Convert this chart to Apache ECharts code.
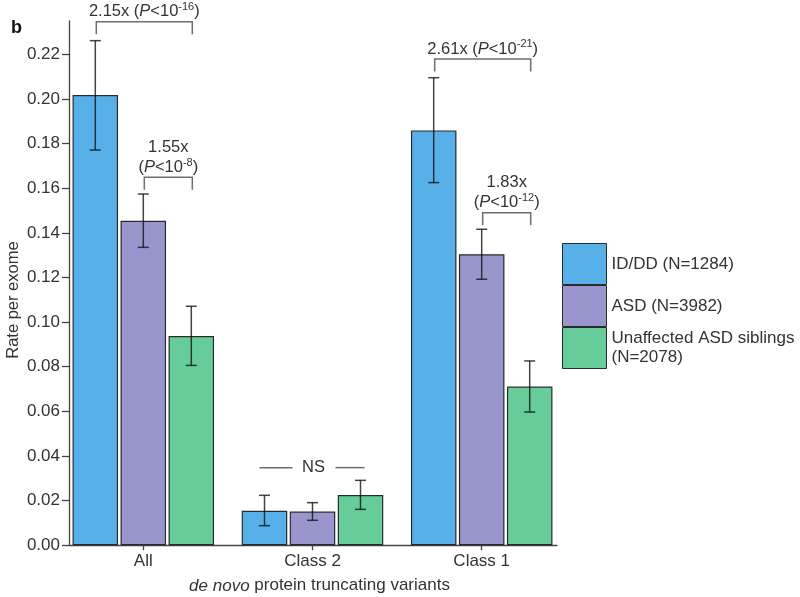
<!DOCTYPE html>
<html>
<head>
<meta charset="utf-8">
<script src="https://cdn.jsdelivr.net/npm/echarts@6/dist/echarts.min.js"></script>
<style>html,body{margin:0;padding:0;background:#fff}#main{width:800px;height:597px}</style>
</head>
<body>
<div id="main"></div>
<script>
var categories = ['All', 'Class 2', 'Class 1'];
var seriesNames = ['ID/DD (N=1284)', 'ASD (N=3982)', 'Unaffected ASD siblings\n(N=2078)'];
var idddRate = [0.2017, 0.0155, 0.1859];
var idddLow = [0.1771, 0.0088, 0.1625];
var idddHigh = [0.2261, 0.0224, 0.2095];
var asdRate = [0.1454, 0.0151, 0.1304];
var asdLow = [0.1335, 0.0112, 0.1192];
var asdHigh = [0.1574, 0.0191, 0.1416];
var sibRate = [0.0938, 0.0225, 0.0711];
var sibLow = [0.0806, 0.0161, 0.0597];
var sibHigh = [0.1071, 0.0291, 0.0826];
var yTicks = [0, 0.02, 0.04, 0.06, 0.08, 0.10, 0.12, 0.14, 0.16, 0.18, 0.20, 0.22];
// comparisons: category, first bar, second bar, bracket height, label
var cmpCat = [0, 0, 2, 2, 1];
var cmpFrom = [0, 1, 0, 1, 0];
var cmpTo = [2, 2, 2, 2, 2];
var cmpLevel = [0.2346, 0.1649, 0.2179, 0.1490, 0.0348];
var cmpText = [
  '{t|2.15x (}{i|P}{t|<10}{s|-16}{t|)}',
  '{t|1.55x}\n{t|(}{i|P}{t|<10}{s|-8}{t|)}',
  '{t|2.61x (}{i|P}{t|<10}{s|-21}{t|)}',
  '{t|1.83x}\n{t|(}{i|P}{t|<10}{s|-12}{t|)}',
  'NS'
];

var font = '"Liberation Sans", Arial, sans-serif';
var colors = ['#58b0e8', '#9896cc', '#66cc99'];
var barStep = 48;
var rates = [idddRate, asdRate, sibRate];
var lows = [idddLow, asdLow, sibLow];
var highs = [idddHigh, asdHigh, sibHigh];

var errData = [];
for (var s = 0; s < 3; s++) {
  for (var c = 0; c < categories.length; c++) {
    errData.push([c, lows[s][c], highs[s][c], s]);
  }
}
var cmpData = cmpCat.map(function (c, i) { return [c, cmpFrom[i], cmpTo[i], cmpLevel[i]]; });

function renderErr(params, api) {
  var c = api.coord([api.value(0), api.value(1)]);
  var h = api.coord([api.value(0), api.value(2)]);
  var x = c[0] + (api.value(3) - 1) * barStep;
  var st = {stroke: '#111', opacity: 0.78, lineWidth: 1.5, fill: null};
  return {type: 'group', children: [
    {type: 'line', shape: {x1: x, y1: c[1], x2: x, y2: h[1]}, style: st},
    {type: 'line', shape: {x1: x - 5.5, y1: c[1], x2: x + 5.5, y2: c[1]}, style: st},
    {type: 'line', shape: {x1: x - 5.5, y1: h[1], x2: x + 5.5, y2: h[1]}, style: st}
  ]};
}

function renderCmp(params, api) {
  var i = params.dataIndex;
  var p = api.coord([api.value(0), api.value(3)]);
  var x1 = p[0] + (api.value(1) - 1) * barStep + 1;
  var x2 = p[0] + (api.value(2) - 1) * barStep + 1;
  var y = p[1];
  var mid = (x1 + x2) / 2;
  var st = {stroke: '#6e6e6e', lineWidth: 1.5, fill: null};
  var txt = {fill: '#333', fontSize: 16.5, fontFamily: font, align: 'center'};
  if (cmpText[i] === 'NS') {
    return {type: 'group', children: [
      {type: 'line', shape: {x1: x1 - 6, y1: y, x2: mid - 21, y2: y}, style: st},
      {type: 'line', shape: {x1: mid + 22, y1: y, x2: x2 + 3, y2: y}, style: st},
      {type: 'text', x: mid, y: y, style: Object.assign({}, txt, {text: 'NS', verticalAlign: 'middle'})}
    ]};
  }
  return {type: 'group', children: [
    {type: 'polyline', shape: {points: [[x1, y + 12.5], [x1, y], [x2, y], [x2, y + 12.5]]}, style: st},
    {type: 'text', x: mid, y: y, style: Object.assign({}, txt, {
      text: cmpText[i], verticalAlign: 'bottom',
      rich: {
        t: {fontSize: 16.5, fontFamily: font, fill: '#333', lineHeight: 20},
        i: {fontSize: 16.5, fontFamily: font, fill: '#333', fontStyle: 'italic', lineHeight: 20},
        s: {fontSize: 11, fontFamily: font, fill: '#333', lineHeight: 12, verticalAlign: 'top'}
      }
    })}
  ]};
}

var barSeries = rates.map(function (r, s) {
  return {
    name: seriesNames[s], type: 'bar', xAxisIndex: 0, yAxisIndex: 0,
    data: r, barWidth: 45.5, barGap: '5.5%',
    itemStyle: {color: colors[s], borderColor: '#2a2a2a', borderWidth: 1.2},
    emphasis: {disabled: true}, silent: true
  };
});

var option = {
  animation: false,
  backgroundColor: '#fff',
  textStyle: {fontFamily: font},
  title: {text: 'b', left: 6, top: 14, textStyle: {fontSize: 18, fontWeight: 'bold', color: '#111', fontFamily: font}},
  legend: {
    orient: 'vertical', left: 557, top: 238, itemGap: 0,
    itemWidth: 44, itemHeight: 41, icon: 'rect',
    data: seriesNames,
    itemStyle: {borderWidth: 1, borderColor: '#2a2a2a'},
    textStyle: {fontSize: 17, color: '#333', lineHeight: 19, fontFamily: font}
  },
  grid: [
    {left: 58.7, top: 20.8, width: 507.6, height: 524.5, outerBoundsMode: 'none'},
    {left: 69, top: 20.8, width: 488, height: 524.5, outerBoundsMode: 'none'}
  ],
  xAxis: [
    {
      type: 'category', gridIndex: 0, data: categories,
      axisLine: {show: false},
      axisTick: {show: true, alignWithLabel: true, length: 5, lineStyle: {color: '#444', width: 1.3}},
      axisLabel: {fontSize: 17, color: '#333', margin: 8, fontFamily: font},
      name: '{i|de novo} protein truncating variants',
      nameLocation: 'middle', nameGap: 32,
      nameTextStyle: {fontSize: 17, color: '#333', fontFamily: font, padding: [0, 0, 0, 14],
        rich: {i: {fontStyle: 'italic', fontSize: 17, color: '#333', fontFamily: font}}}
    },
    {
      type: 'value', gridIndex: 1, min: 0, max: 1,
      axisLine: {show: true, lineStyle: {color: '#444', width: 1.3}},
      axisTick: {show: false}, axisLabel: {show: false}, splitLine: {show: false}
    }
  ],
  yAxis: [
    {type: 'value', gridIndex: 0, min: 0, max: 0.235, show: false, splitLine: {show: false}},
    {
      type: 'value', gridIndex: 1, min: 0, max: 0.235, interval: 0.02,
      axisLine: {show: true, lineStyle: {color: '#444', width: 1.3}},
      axisTick: {show: true, length: 7, customValues: yTicks, lineStyle: {color: '#444', width: 1.3}},
      axisLabel: {fontSize: 17, color: '#333', margin: 9, fontFamily: font,
        customValues: yTicks, formatter: function (v) { return v.toFixed(2); }},
      splitLine: {show: false},
      name: 'Rate per exome', nameLocation: 'middle', nameGap: 47, nameMoveOverlap: false,
      nameTextStyle: {fontSize: 16.5, color: '#333', fontFamily: font, padding: [0, 34, 0, 0]}
    }
  ],
  series: barSeries.concat([
    {type: 'custom', xAxisIndex: 0, yAxisIndex: 0, data: errData, renderItem: renderErr,
      encode: {x: 0, y: [1, 2]}, z: 5, silent: true},
    {type: 'custom', xAxisIndex: 0, yAxisIndex: 0, data: cmpData, renderItem: renderCmp,
      encode: {x: 0, y: 3}, z: 6, silent: true, clip: false}
  ])
};

var chart = echarts.init(document.getElementById('main'));
chart.setOption(option);
</script>
</body>
</html>
